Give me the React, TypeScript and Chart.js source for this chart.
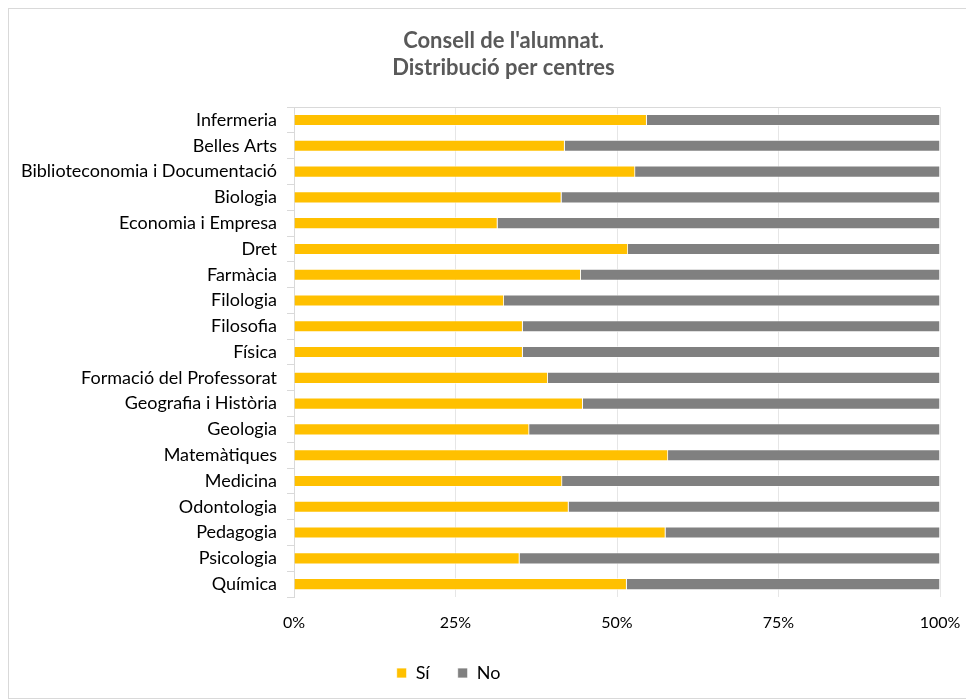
import React, { useEffect, useRef } from "react";
import { Chart, registerables } from "chart.js";

Chart.register(...registerables);

const categories = [
  "Infermeria",
  "Belles Arts",
  "Biblioteconomia i Documentació",
  "Biologia",
  "Economia i Empresa",
  "Dret",
  "Farmàcia",
  "Filologia",
  "Filosofia",
  "Física",
  "Formació del Professorat",
  "Geografia i Història",
  "Geologia",
  "Matemàtiques",
  "Medicina",
  "Odontologia",
  "Pedagogia",
  "Psicologia",
  "Química",
];

const siValues = [54.6, 41.9, 52.8, 41.4, 31.5, 51.7, 44.4, 32.5, 35.4, 35.4, 39.3, 44.7, 36.4, 57.9, 41.5, 42.5, 57.5, 34.9, 51.5];
const noValues = siValues.map((v) => Math.round((100 - v) * 10) / 10);

const seriesNames = ["Sí", "No"];
const titleLines = ["Consell de l'alumnat.", "Distribució per centres"];
const xTicks = [0, 25, 50, 75, 100];

const FONT = "Lato, 'Open Sans', sans-serif";

const shiftPlugin = {
  id: "shiftBoxes",
  afterLayout(chart: any) {
    const lg = chart.legend;
    if (lg) {
      lg.left -= 26;
      lg.right -= 26;
      const h = lg.bottom - lg.top;
      lg.top = 627;
      lg.bottom = 627 + h;
    }
    if (chart.titleBlock) {
      chart.titleBlock.left += 29;
      chart.titleBlock.right += 29;
    }
  },
};

export default function App() {
  const ref = useRef<HTMLCanvasElement | null>(null);

  useEffect(() => {
    if (!ref.current) return;
    const chart = new Chart(ref.current, {
      type: "bar",
      data: {
        labels: categories,
        datasets: [
          {
            label: seriesNames[0],
            data: siValues,
            backgroundColor: "#FFC000",
            borderColor: "#ffffff",
            borderWidth: 0.75,
            barPercentage: 0.5,
            categoryPercentage: 0.9,
          },
          {
            label: seriesNames[1],
            data: noValues,
            backgroundColor: "#808080",
            borderColor: "#ffffff",
            borderWidth: 0.75,
            barPercentage: 0.5,
            categoryPercentage: 0.9,
          },
        ],
      },
      plugins: [shiftPlugin],
      options: {
        indexAxis: "y",
        animation: false,
        responsive: true,
        maintainAspectRatio: false,
        layout: { padding: { left: 0, right: 31, top: 0, bottom: 0 } },
        plugins: {
          title: {
            display: true,
            text: titleLines,
            color: "#595959",
            font: { family: FONT, size: 22, weight: "bold", lineHeight: 1.23 },
            padding: { top: 18, bottom: 26 },
          },
          legend: {
            position: "bottom",
            labels: {
              color: "#000000",
              font: { family: FONT, size: 18 },
              boxWidth: 10,
              boxHeight: 10,
              padding: 28,
            },
          },
          tooltip: { enabled: false },
        },
        scales: {
          x: {
            stacked: true,
            min: 0,
            max: 100,
            afterBuildTicks: (scale: any) => {
              scale.ticks = xTicks.map((v) => ({ value: v }));
            },
            afterFit: (scale: any) => {
              scale.height = 45;
              scale.paddingRight = 0;
              scale.paddingLeft = 0;
            },
            ticks: {
              color: "#000000",
              font: { family: FONT, size: 16 },
              padding: 16,
              callback: (v: any) => v + "%",
              maxRotation: 0,
            },
            grid: {
              color: "#e6e6e6",
              drawTicks: false,
              lineWidth: 1,
            },
            border: { display: false },
          },
          y: {
            stacked: true,
            afterFit: (scale: any) => {
              scale.width = 285;
            },
            ticks: {
              color: "#000000",
              font: { family: FONT, size: 18 },
              padding: 10,
              autoSkip: false,
            },
            grid: {
              color: (ctx: any) => (ctx.index === 0 ? "#d9d9d9" : "rgba(0,0,0,0)"),
              tickColor: "#d9d9d9",
              tickLength: 7,
              lineWidth: 1,
            },
            border: { display: true, color: "#d9d9d9", width: 1 },
          },
        },
      },
    });
    return () => chart.destroy();
  }, []);

  return (
    <div
      style={{
        width: 962,
        height: 689,
        border: "1px solid #d9d9d9",
        position: "relative",
        background: "#fff",
      }}
    >
      <canvas ref={ref} />
    </div>
  );
}
